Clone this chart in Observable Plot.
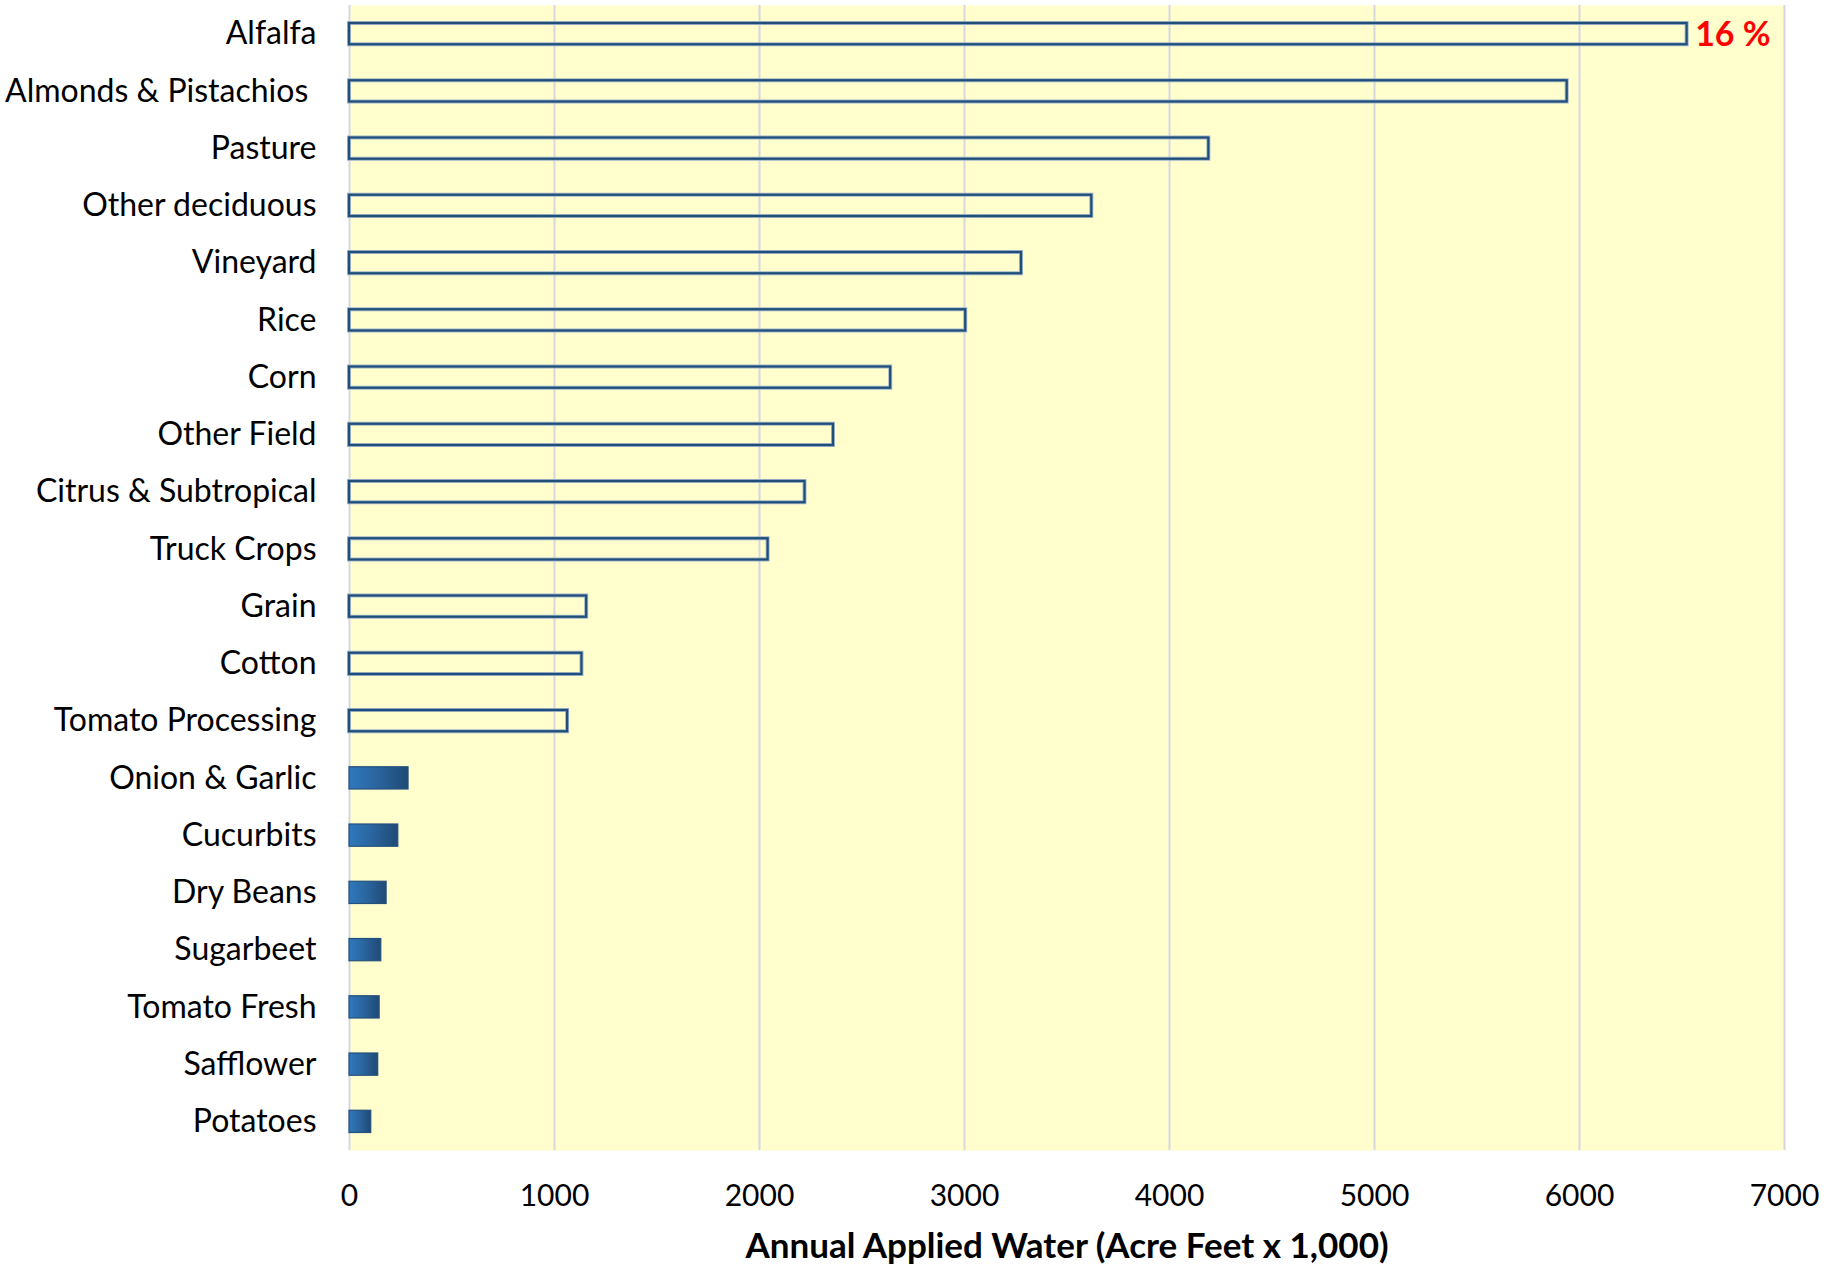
<!DOCTYPE html>
<html>
<head>
<meta charset="utf-8">
<script src="https://cdn.jsdelivr.net/npm/d3@7"></script>
<script src="https://cdn.jsdelivr.net/npm/@observablehq/plot@0.6"></script>
<style>
  html, body { margin: 0; padding: 0; background: #ffffff; }
</style>
</head>
<body>
<div id="chart"></div>
<script>
// Crops drawn as outlined bars (large water users)
const majorCrops = ["Alfalfa", "Almonds & Pistachios ", "Pasture", "Other deciduous", "Vineyard", "Rice", "Corn",
  "Other Field", "Citrus & Subtropical", "Truck Crops", "Grain", "Cotton", "Tomato Processing"];
const majorValues = [6525, 5940, 4192, 3621, 3278, 3006, 2640, 2361, 2222, 2042, 1157, 1134, 1064];

// Crops drawn as filled bars (small water users)
const minorCrops = ["Onion & Garlic", "Cucurbits", "Dry Beans", "Sugarbeet", "Tomato Fresh", "Safflower", "Potatoes"];
const minorValues = [288, 238, 181, 155, 147, 140, 106];

const xTicks = [0, 1000, 2000, 3000, 4000, 5000, 6000, 7000];
const xTitle = "Annual Applied Water (Acre Feet x 1,000)";
const noteCrop = "Alfalfa";
const noteText = "16 %";

const allCrops = majorCrops.concat(minorCrops);
const major = majorCrops.map((crop, i) => ({crop, value: majorValues[i]}));
const minor = minorCrops.map((crop, i) => ({crop, value: minorValues[i]}));
const note = [{crop: noteCrop, value: majorValues[majorCrops.indexOf(noteCrop)], text: noteText}];

const FONT = "Lato, 'Open Sans', sans-serif";

const chart = Plot.plot({
  width: 1825,
  height: 1268,
  marginLeft: 349,
  marginRight: 41,
  marginTop: 5,
  marginBottom: 118,
  style: {fontFamily: FONT, fontSize: "32px", color: "#000000", background: "#ffffff"},
  x: {domain: [0, 7000], label: null},
  y: {domain: allCrops, padding: 0, round: false, label: null},
  marks: [
    Plot.frame({fill: "#FFFECC", stroke: null}),
    Plot.gridX(xTicks, {stroke: "#D5D8DF", strokeOpacity: 1, strokeWidth: 2}),
    // soft halo of outlined bars
    Plot.barX(major, {x: "value", y: "crop", fill: "none", stroke: "#9FB4CA", strokeWidth: 4, insetTop: 18, insetBottom: 18}),
    Plot.barX(major, {x: "value", y: "crop", fill: "none", stroke: "#1F4E79", strokeWidth: 2.2, insetTop: 18, insetBottom: 18}),
    // gradient-filled bars
    Plot.barX(minor, {x: "value", y: "crop", fill: "url(#barGrad)", stroke: "#23507D", strokeWidth: 1.2, insetTop: 17.5, insetBottom: 17.5}),
    Plot.axisX({ticks: xTicks, tickSize: 0, tickPadding: 34, tickFormat: d => String(d), fontSize: 30, label: null}),
    Plot.axisY({tickSize: 0, tickPadding: 33, fontSize: 32, label: null,
      tickFormat: d => d.endsWith(" ") ? d.trimEnd() + "\u00a0" : d}),
    Plot.text([xTitle], {text: d => d, frameAnchor: "bottom", lineAnchor: "middle", dy: 96,
      fontWeight: "bold", fontSize: 35, fill: "#000"}),
    Plot.text(note, {x: "value", y: "crop", text: "text", textAnchor: "start", dx: 8, dy: 1,
      fill: "#FF0000", fontWeight: "bold", fontSize: 34})
  ]
});

const svgNS = "http://www.w3.org/2000/svg";
const defs = document.createElementNS(svgNS, "defs");
defs.innerHTML = '<linearGradient id="barGrad" x1="0" x2="1" y1="0" y2="0">' +
  '<stop offset="0" stop-color="#2F78BD"/><stop offset="0.45" stop-color="#2B66A0"/><stop offset="1" stop-color="#1F4A75"/></linearGradient>';
chart.insertBefore(defs, chart.firstChild);

document.getElementById("chart").appendChild(chart);
</script>
</body>
</html>
